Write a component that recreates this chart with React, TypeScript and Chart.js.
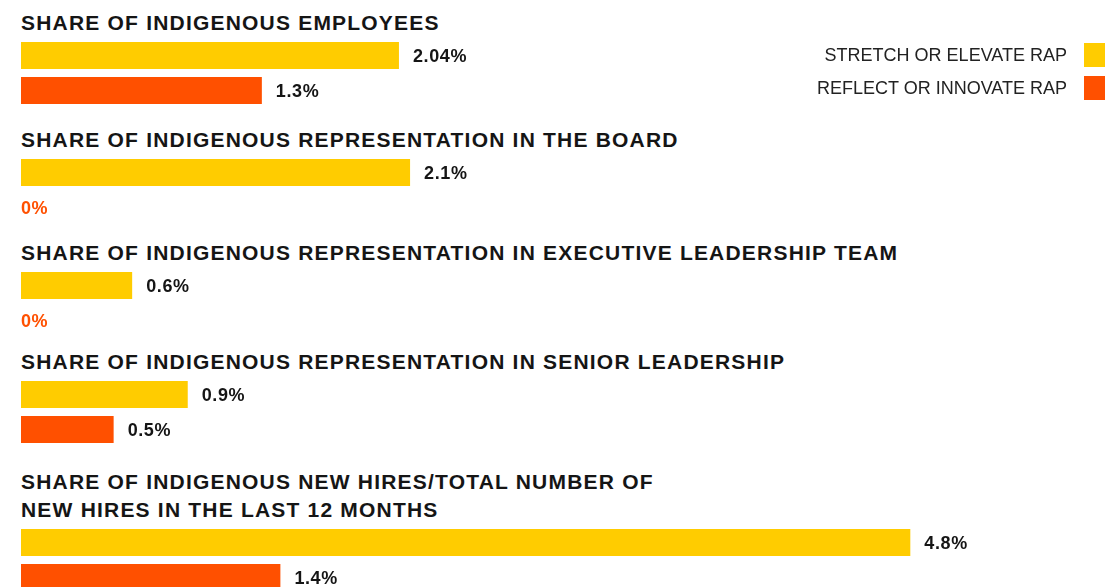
import React, { useEffect, useRef } from "react";
import { Chart, registerables } from "chart.js";

Chart.register(...registerables);

// ---- data ----
const GROUP_TITLES = [
  "SHARE OF INDIGENOUS EMPLOYEES",
  "SHARE OF INDIGENOUS REPRESENTATION IN THE BOARD",
  "SHARE OF INDIGENOUS REPRESENTATION IN EXECUTIVE LEADERSHIP TEAM",
  "SHARE OF INDIGENOUS REPRESENTATION IN SENIOR LEADERSHIP",
  "SHARE OF INDIGENOUS NEW HIRES/TOTAL NUMBER OF\nNEW HIRES IN THE LAST 12 MONTHS",
];
const SERIES_NAMES = ["STRETCH OR ELEVATE RAP", "REFLECT OR INNOVATE RAP"];
const STRETCH_VALUES = [2.04, 2.1, 0.6, 0.9, 4.8];
const REFLECT_VALUES = [1.3, 0, 0, 0.5, 1.4];
const X_MAX = 5.5;

// ---- styles / layout ----
const YELLOW = "#FFCC00";
const ORANGE = "#FF5000";
const TEXT = "#151515";
const FONT = '"Liberation Sans", Arial, Helvetica, sans-serif';
const GROUP_TOPS = [9, 126, 239, 348, 468];
const CANVAS_W = 1019;
const CANVAS_H = 70;

const valueLabelPlugin = {
  id: "valueLabels",
  afterDatasetsDraw(chart: any) {
    const ctx = chart.ctx;
    const meta = chart.getDatasetMeta(0);
    const values = chart.data.datasets[0].data as number[];
    ctx.save();
    ctx.font = `bold 18px ${FONT}`;
    (ctx as any).letterSpacing = "0.6px";
    ctx.textBaseline = "middle";
    ctx.textAlign = "left";
    meta.data.forEach((bar: any, i: number) => {
      const v = values[i];
      const label = `${v}%`;
      if (v === 0) {
        ctx.fillStyle = ORANGE;
        ctx.fillText(label, chart.chartArea.left, bar.y + 2);
      } else {
        ctx.fillStyle = TEXT;
        ctx.fillText(label, bar.x + 14, bar.y + 1.5);
      }
    });
    ctx.restore();
  },
};

function GroupChart({ stretch, reflect }: { stretch: number; reflect: number }) {
  const ref = useRef<HTMLCanvasElement>(null);
  useEffect(() => {
    if (!ref.current) return;
    const chart = new Chart(ref.current, {
      type: "bar",
      data: {
        labels: SERIES_NAMES,
        datasets: [
          {
            data: [stretch, reflect],
            backgroundColor: [YELLOW, ORANGE],
            borderWidth: 0,
            barPercentage: 27 / 35,
            categoryPercentage: 1,
          },
        ],
      },
      options: {
        indexAxis: "y",
        responsive: false,
        animation: false,
        layout: { padding: 0 },
        scales: {
          x: { display: false, min: 0, max: X_MAX },
          y: { display: false },
        },
        plugins: {
          legend: { display: false },
          tooltip: { enabled: false },
        },
      },
      plugins: [valueLabelPlugin],
    } as any);
    return () => chart.destroy();
  }, [stretch, reflect]);
  return (
    <canvas
      ref={ref}
      width={CANVAS_W}
      height={CANVAS_H}
      style={{ display: "block", width: CANVAS_W, height: CANVAS_H }}
    />
  );
}

export default function App() {
  return (
    <div
      style={{
        position: "absolute",
        left: 0,
        top: 0,
        width: 1105,
        height: 587,
        overflow: "hidden",
        background: "#fff",
        fontFamily: FONT,
      }}
    >
      {GROUP_TITLES.map((title, i) => (
        <div key={i} style={{ position: "absolute", left: 21, top: GROUP_TOPS[i] }}>
          <div
            style={{
              fontSize: 21,
              fontWeight: 700,
              lineHeight: "28px",
              letterSpacing: "1.2px",
              color: TEXT,
              whiteSpace: "pre-line",
              marginBottom: 1,
            }}
          >
            {title}
          </div>
          <GroupChart stretch={STRETCH_VALUES[i]} reflect={REFLECT_VALUES[i]} />
        </div>
      ))}
      {SERIES_NAMES.map((name, i) => (
        <div
          key={name}
          style={{
            position: "absolute",
            right: 0,
            top: i === 0 ? 43 : 76,
            height: 24,
            display: "flex",
            alignItems: "center",
          }}
        >
          <span style={{ fontSize: 18, color: "#222", marginRight: 17, lineHeight: "24px" }}>{name}</span>
          <span style={{ display: "inline-block", width: 21, height: 24, background: i === 0 ? YELLOW : ORANGE }} />
        </div>
      ))}
    </div>
  );
}
